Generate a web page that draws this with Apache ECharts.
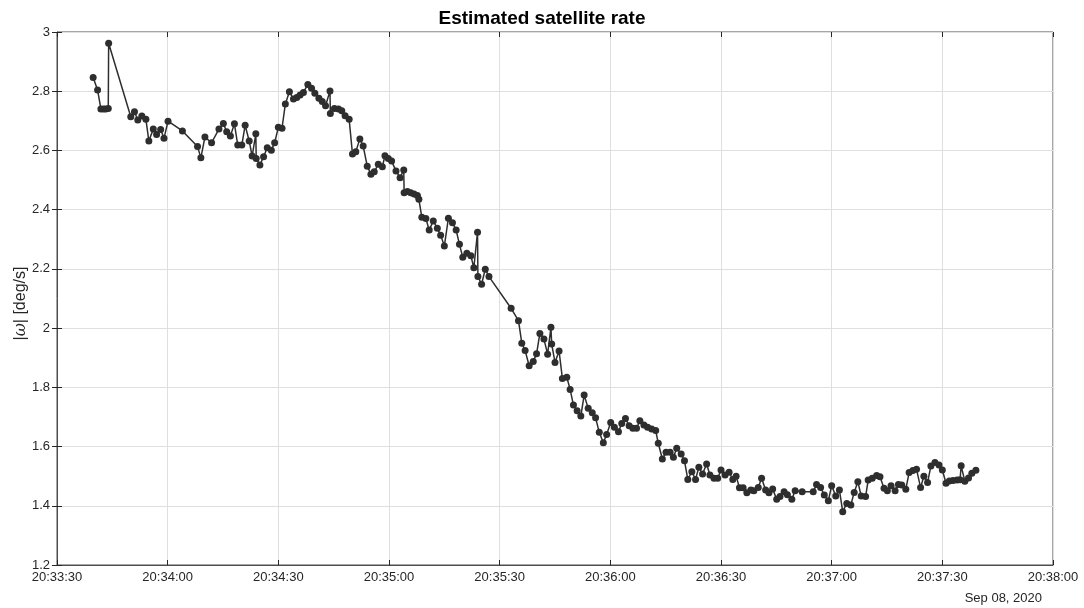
<!DOCTYPE html>
<html>
<head>
<meta charset="utf-8">
<script src="https://cdn.jsdelivr.net/npm/echarts@6/dist/echarts.min.js"></script>
<style>html,body{margin:0;padding:0;background:#fff}#c{width:1084px;height:608px}</style>
</head>
<body>
<div id="c"></div>
<script>
// seconds after 20:33:30 (Sep 08, 2020)
const startSeconds = 20 * 3600 + 33 * 60 + 30;
const dateLabel = 'Sep 08, 2020';
const titleText = 'Estimated satellite rate';
const times = [
  9.8, 11.0, 11.9, 12.6, 13.2, 13.9, 14.0, 20.0, 21.0, 21.9, 23.0, 24.1, 24.9, 26.1, 27.0, 28.1, 29.0, 30.1,
  34.0, 38.1, 39.0, 40.1, 41.9, 43.9, 45.1, 46.0, 47.0, 48.1, 49.0, 50.1, 51.0, 52.1, 52.9, 53.9, 54.0, 55.0,
  56.0, 57.0, 58.1, 59.0, 60.0, 61.0, 61.9, 63.0, 64.1, 65.0, 65.9, 66.8, 68.0, 69.0, 69.9, 71.0, 71.9, 72.8,
  74.0, 74.1, 75.2, 76.3, 77.2, 78.1, 79.2, 80.1, 81.0, 82.1, 83.0, 84.1, 85.1, 86.0, 87.1, 88.2, 88.9, 89.8,
  90.7, 91.9, 93.0, 94.0, 94.1, 95.0, 95.9, 96.8, 97.7, 98.1, 98.9, 100.0, 100.9, 102.0, 103.1, 104.0, 105.0,
  106.1, 107.2, 108.2, 109.1, 110.0, 111.1, 112.2, 113.0, 114.0, 114.1, 115.1, 116.1, 117.1,
  123.1, 125.1, 126.0, 126.9, 128.0, 129.1, 130.0, 130.9, 132.0, 133.0, 133.9, 134.1, 135.0, 136.1, 137.0,
  138.2, 139.1, 140.0, 141.0, 142.0, 142.9, 144.0, 145.1, 146.0, 147.0, 148.1, 149.0, 150.1, 151.1, 152.2,
  153.1, 154.1, 155.1, 156.1, 157.1, 158.0, 159.1, 160.1, 161.2, 162.3, 163.0, 164.1, 165.1, 166.2, 167.1,
  168.0, 169.2, 170.1, 171.0, 172.1, 173.1, 174.0, 175.0, 176.1, 177.0, 178.1, 179.1, 180.0, 181.1, 182.2,
  183.2, 184.1, 185.0, 186.0, 187.0, 188.1, 188.9, 190.1, 191.0, 192.1, 193.0, 194.0, 195.1, 196.0, 197.1,
  198.0, 199.2, 200.1, 202.0, 205.0, 205.9, 207.0, 208.0, 209.1, 210.0, 211.1, 212.1, 213.0, 214.1, 215.2,
  216.1, 217.1, 218.0, 219.2, 219.9, 221.0, 222.2, 223.1, 224.2, 225.1, 226.1, 227.2, 228.1, 229.0, 230.1,
  231.0, 232.0, 233.0, 234.1, 235.0, 236.0, 236.9, 238.0, 239.1, 240.0, 241.0, 241.9, 242.9, 244.0, 244.8,
  245.1, 246.1, 247.1, 248.0, 249.1
];
const rates = [
  2.846, 2.804, 2.740, 2.740, 2.740, 2.742, 2.962, 2.714, 2.731, 2.703, 2.716, 2.705, 2.632, 2.672, 2.654, 2.671, 2.641, 2.699,
  2.666, 2.613, 2.575, 2.645, 2.626, 2.672, 2.691, 2.663, 2.649, 2.690, 2.618, 2.618, 2.685, 2.632, 2.581, 2.656, 2.573, 2.551,
  2.579, 2.609, 2.601, 2.626, 2.678, 2.675, 2.757, 2.798, 2.774, 2.779, 2.787, 2.796, 2.823, 2.810, 2.793, 2.776, 2.765, 2.751,
  2.801, 2.725, 2.742, 2.740, 2.734, 2.717, 2.705, 2.588, 2.596, 2.639, 2.615, 2.547, 2.520, 2.528, 2.553, 2.545, 2.582, 2.573,
  2.564, 2.531, 2.508, 2.534, 2.457, 2.461, 2.457, 2.453, 2.448, 2.435, 2.374, 2.370, 2.331, 2.362, 2.337, 2.314, 2.277,
  2.371, 2.356, 2.331, 2.283, 2.239, 2.253, 2.244, 2.204, 2.324, 2.174, 2.148, 2.199, 2.174,
  2.067, 2.025, 1.949, 1.924, 1.873, 1.887, 1.913, 1.982, 1.963, 1.912, 2.003, 1.946, 1.884, 1.923, 1.830,
  1.834, 1.793, 1.740, 1.721, 1.703, 1.774, 1.729, 1.714, 1.697, 1.648, 1.613, 1.641, 1.681, 1.665, 1.650,
  1.678, 1.695, 1.670, 1.662, 1.662, 1.687, 1.673, 1.665, 1.659, 1.654, 1.611, 1.558, 1.581, 1.581, 1.564,
  1.594, 1.575, 1.552, 1.489, 1.515, 1.489, 1.530, 1.507, 1.541, 1.504, 1.493, 1.493, 1.521, 1.504, 1.513,
  1.489, 1.500, 1.461, 1.461, 1.444, 1.453, 1.451, 1.462, 1.493, 1.453, 1.444, 1.457, 1.422, 1.431, 1.447,
  1.437, 1.422, 1.451, 1.447, 1.447, 1.472, 1.462, 1.436, 1.417, 1.468, 1.433, 1.453, 1.380, 1.408, 1.403,
  1.445, 1.481, 1.433, 1.431, 1.487, 1.493, 1.502, 1.498, 1.459, 1.451, 1.468, 1.451, 1.472, 1.470, 1.456,
  1.512, 1.519, 1.523, 1.462, 1.500, 1.479, 1.534, 1.546, 1.538, 1.521, 1.476, 1.484, 1.485, 1.487, 1.488,
  1.535, 1.483, 1.494, 1.510, 1.520
];
const xMin = 0, xMax = 270, xStep = 30;
const yMin = 1.2, yMax = 3, yStep = 0.2;

function clock(v) {
  const s = Math.round(startSeconds + v);
  const hh = Math.floor(s / 3600), mm = Math.floor((s % 3600) / 60), ss = s % 60;
  const p = n => String(n).padStart(2, '0');
  return p(hh) + ':' + p(mm) + ':' + p(ss);
}

const chart = echarts.init(document.getElementById('c'), null, { renderer: 'canvas' });
const axisCol = '#262626';
const font = 'Arial, "Liberation Sans", Helvetica, sans-serif';
chart.setOption({
  animation: false,
  backgroundColor: '#ffffff',
  title: {
    text: titleText, left: 'center', top: 4,
    textStyle: { fontFamily: font, fontSize: 19, fontWeight: 'bold', color: '#000' }
  },
  grid: { left: 57, right: 31, top: 32, bottom: 43, show: true, borderColor: '#4d4d4d', borderWidth: 1,
          containLabel: false, outerBoundsMode: 'none' },
  xAxis: [{
    type: 'value', min: xMin, max: xMax, interval: xStep,
    axisLine: { show: true, lineStyle: { color: '#4d4d4d', width: 1 } },
    axisTick: { show: true, inside: true, length: 5, lineStyle: { color: axisCol } },
    axisLabel: { formatter: clock, color: axisCol, fontFamily: font, fontSize: 13, margin: 6 },
    splitLine: { show: true, lineStyle: { color: '#dfdfdf', width: 1 } }
  }, {
    type: 'value', position: 'top', min: xMin, max: xMax, interval: xStep,
    axisLine: { show: false }, axisLabel: { show: false }, splitLine: { show: false },
    axisTick: { show: true, inside: true, length: 5, lineStyle: { color: axisCol } }
  }],
  yAxis: [{
    type: 'value', min: yMin, max: yMax, interval: yStep,
    name: '|{i|ω}| [deg/s]', nameLocation: 'middle', nameRotate: 90, nameGap: 28, nameMoveOverlap: false,
    nameTextStyle: { fontFamily: font, fontSize: 16, color: axisCol, padding: [0, 10, 0, 0],
      rich: { i: { fontFamily: '"DejaVu Serif", "Liberation Serif", serif', fontStyle: 'italic', fontSize: 16, color: axisCol } } },
    axisLine: { show: true, lineStyle: { color: '#4d4d4d', width: 1 } },
    axisTick: { show: true, inside: true, length: 5, lineStyle: { color: axisCol } },
    axisLabel: { formatter: v => String(parseFloat(v.toFixed(1))), color: axisCol, fontFamily: font, fontSize: 13, margin: 7 },
    splitLine: { show: true, lineStyle: { color: '#dfdfdf', width: 1 } }
  }, {
    type: 'value', position: 'right', min: yMin, max: yMax, interval: yStep,
    axisLine: { show: false }, axisLabel: { show: false }, splitLine: { show: false },
    axisTick: { show: true, inside: true, length: 5, lineStyle: { color: axisCol } }
  }],
  graphic: [{
    type: 'text', right: 42, bottom: 3,
    style: { text: dateLabel, fill: axisCol, font: '13px ' + font }
  }],
  series: [{
    type: 'line',
    data: times.map((t, i) => [t, rates[i]]),
    symbol: 'circle', symbolSize: 7, showAllSymbol: true,
    lineStyle: { color: '#2e2e2e', width: 1.5 },
    itemStyle: { color: '#2e2e2e' },
    emphasis: { disabled: true }
  }]
});
</script>
</body>
</html>
